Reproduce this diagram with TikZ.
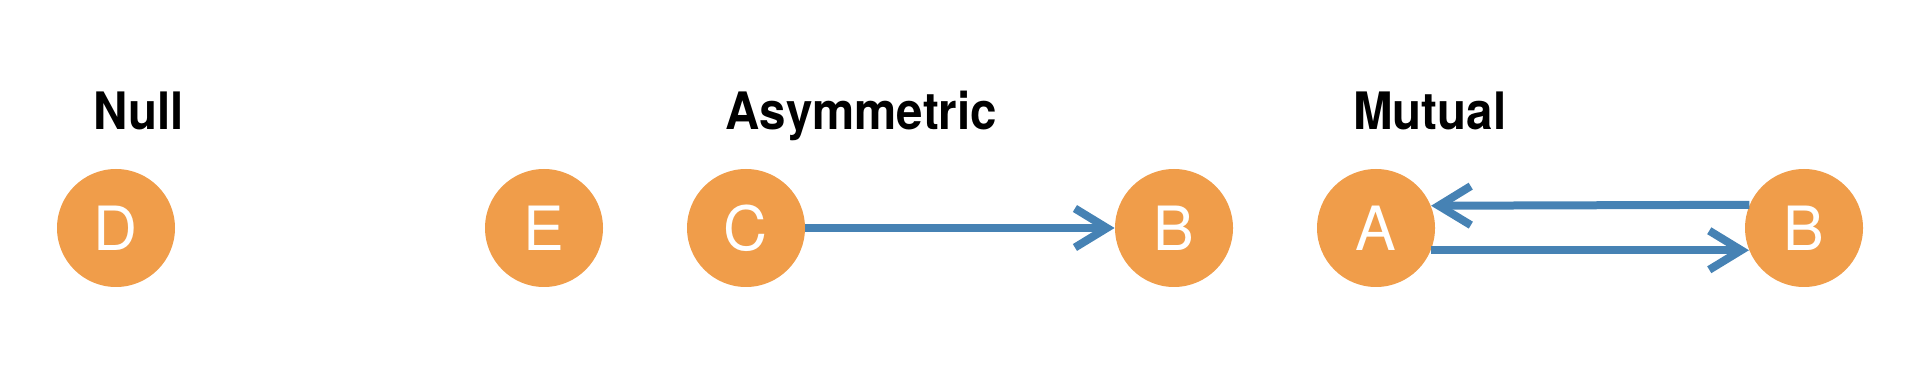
\documentclass[tikz,border=0pt]{standalone}
\usepackage{fontspec}
\setmainfont{TeX Gyre Heros}
\newfontfamily\titlefont[FakeStretch=0.92]{TeX Gyre Heros}
\usetikzlibrary{arrows.meta}
\definecolor{nodeorange}{RGB}{240,157,74}
\definecolor{edgeblue}{RGB}{70,130,180}
\tikzset{
  vert/.style={circle, fill=nodeorange, draw=none, minimum size=59pt, inner sep=0pt,
    text=white, font=\fontsize{30.5pt}{30.5pt}\selectfont},
  ttl/.style={anchor=base west, inner sep=0pt, text=black,
    font=\titlefont\bfseries\fontsize{25.8pt}{25.8pt}\selectfont},
  edge/.style={draw=edgeblue, line width=4pt,
    -{Straight Barb[length=16pt, width=19.5pt, sharp]}},
}
\begin{document}
\begin{tikzpicture}[x=0.5pt, y=-0.5pt]
\useasboundingbox (0,0) rectangle (1920,384);
% titles
\node[ttl] (tnull) at (93,130) {Null};
\node[ttl] (tasym) at (725,130) {Asymmetric};
\node[ttl] (tmut) at (1353,130) {Mutual};
% vertices
\node[vert] (D) at (116,228) {D};
\node[vert] (E) at (544,228) {E};
\node[vert] (C) at (746,228) {C};
\node[vert] (B1) at (1174,228) {B};
\node[vert] (A) at (1376,228) {A};
\node[vert] (B2) at (1804,228) {B};
% edges
\draw[edge] (C.east) -- (B1.west);
\draw[edge] (B2.157.6) -- (A.22.4);
\draw[edge] (A.-22.4) -- (B2.202.4);
\end{tikzpicture}
\end{document}
